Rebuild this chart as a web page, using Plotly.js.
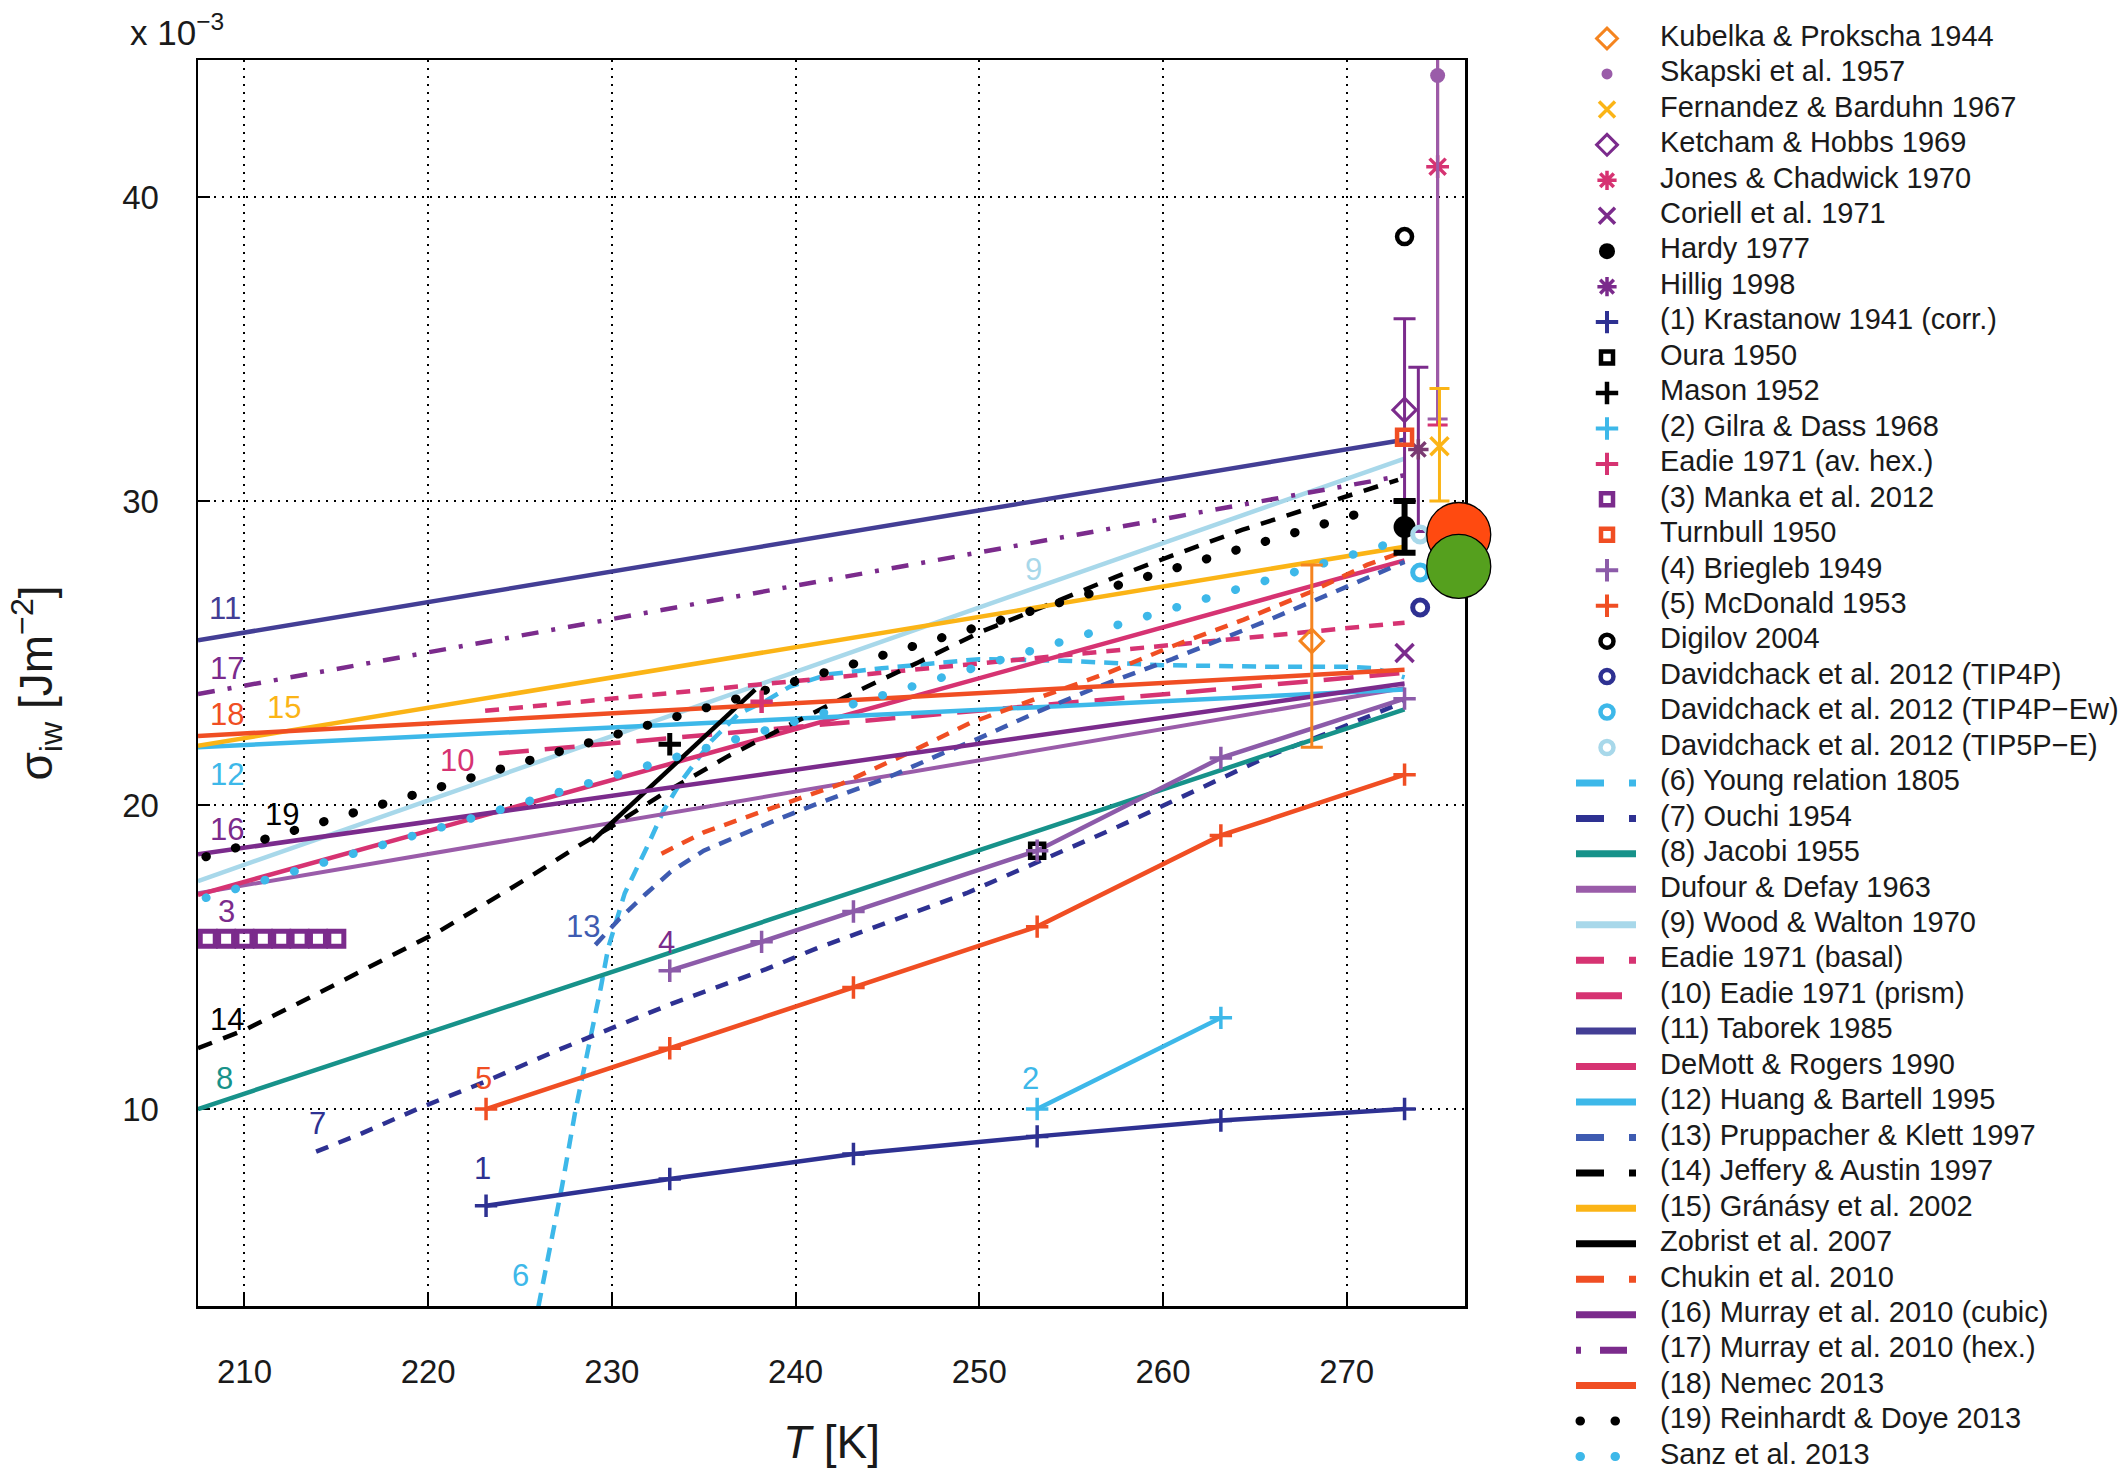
<!DOCTYPE html>
<html><head><meta charset="utf-8">
<script src="https://cdn.plot.ly/plotly-3.0.1.min.js"></script>
<style>
html,body{margin:0;padding:0;background:#fff;}
#chart{width:2118px;height:1469px;}
.tracereinhardt .js-line, .tracesanz .js-line, .tracelegdot1 .js-line, .tracelegdot2 .js-line {stroke-linecap:round;}
</style>
</head><body><div id="chart"></div>
<script>
// ===== DATA (T in K, sigma_iw in 10^-3 J m^-2) =====
const xTicks = [210, 220, 230, 240, 250, 260, 270];
const yTicks = [10, 20, 30, 40];

// point measurements
const kubelkaT = [268.1], kubelkaS = [25.4], kubelkaErrUp = [2.5], kubelkaErrDn = [3.5];
const skapskiT = [274.95], skapskiS = [44.0], skapskiErr = [11.3];
const fernandezT = [275.05], fernandezS = [31.8], fernandezErrUp = [1.9], fernandezErrDn = [1.8];
const ketchamT = [273.15], ketchamS = [33.0], ketchamErr = [3.0];
const jonesT = [274.95], jonesS = [41.0], jonesErr = [8.5];
const coriellT = [273.15], coriellS = [25.0];
const hardyT = [273.15], hardyS = [29.15], hardyErr = [0.85];
const hilligT = [273.9], hilligS = [31.7], hilligErr = [2.7];
const ouraT = [253.15], ouraS = [18.5];
const masonT = [233.15], masonS = [22.0];
const eadieHexT = [238.15], eadieHexS = [23.4];
const turnbullT = [273.15], turnbullS = [32.1];
const digilovT = [273.15], digilovS = [38.7];
const tip4pT = [274.0], tip4pS = [26.5];
const tip4pewT = [274.0], tip4pewS = [27.65];
const tip5peT = [274.0], tip5peS = [28.9];
const bigOrangeT = [276.1], bigOrangeS = [28.9];
const bigGreenT = [276.1], bigGreenS = [27.85];

// measured series with markers
const krastanowT = [223.15, 233.15, 243.15, 253.15, 263.15, 273.15];
const krastanowS = [6.82, 7.7, 8.52, 9.1, 9.62, 10.0];
const gilraT = [253.15, 263.15];
const gilraS = [10.0, 13.0];
const brieglebT = [233.15, 238.15, 243.15, 253.15, 263.15, 273.15];
const brieglebS = [14.55, 15.5, 16.5, 18.5, 21.55, 23.5];
const mcdonaldT = [223.15, 233.15, 243.15, 253.15, 263.15, 273.15];
const mcdonaldS = [10.0, 12.0, 14.0, 16.0, 19.0, 21.0];
const mankaT = [208, 209, 210, 211, 212, 213, 214, 215];
const mankaS = [15.6, 15.6, 15.6, 15.6, 15.6, 15.6, 15.6, 15.6];

// parameterisations (curves)
const youngT = [226.0, 226.7, 227.3, 228.0, 228.7, 229.4, 229.8, 230.7, 231.9, 232.8, 233.8, 235.4, 236.9, 238.3, 239.7, 241.8, 244.7, 250.0, 254.5, 260.0, 266.0, 270.0, 271.5, 273.15];
const youngS = [3.5, 5.6, 7.5, 9.9, 11.9, 14.0, 15.3, 17.1, 18.6, 19.8, 20.8, 22.1, 23.0, 23.4, 23.9, 24.3, 24.5, 24.8, 24.75, 24.6, 24.55, 24.55, 24.5, 24.2];
const ouchiT = [213.9, 216.2, 219.6, 223.1, 226.9, 229.7, 233.2, 238.4, 241.2, 245.5, 249.3, 252.7, 257.6, 262.2, 265.7, 269.5, 273.15];
const ouchiS = [8.6, 9.15, 10.05, 10.9, 11.9, 12.6, 13.45, 14.6, 15.3, 16.25, 17.1, 18.0, 19.3, 20.6, 21.6, 22.5, 23.4];
const jacobiT = [207.47, 273.15], jacobiS = [10.0, 23.15];
const dufourT = [207.47, 273.15], dufourS = [17.1, 23.85];
const woodT = [207.47, 273.15], woodS = [17.5, 31.4];
const eadieBasalT = [223.1, 273.15], eadieBasalS = [23.1, 26.0];
const eadiePrismT = [223.85, 273.15], eadiePrismS = [21.7, 24.35];
const taborekT = [207.47, 273.15], taborekS = [25.42, 32.02];
const demottT = [207.47, 273.15], demottS = [17.05, 28.05];
const huangT = [207.47, 273.15], huangS = [21.9, 23.8];
const pruppT = [229.1, 230.4, 231.8, 233.2, 235.0, 236.9, 238.9, 241.2, 243.2, 245.0, 248.0, 250.0, 253.3, 256.5, 260.5, 265.8, 269.3, 273.15];
const pruppS = [15.4, 16.25, 17.05, 17.8, 18.5, 19.0, 19.5, 20.05, 20.5, 20.9, 21.7, 22.2, 23.1, 23.9, 24.8, 26.1, 27.0, 28.0];
const jefferyT = [207.47, 210.0, 213.5, 217.7, 220.6, 223.1, 225.7, 228.3, 230.0, 233.0, 236.3, 239.7, 243.2, 246.7, 250.1, 253.8, 257.4, 260.7, 264.3, 267.9, 271.5, 272.8];
const jefferyS = [12.0, 12.6, 13.65, 14.95, 15.85, 16.75, 17.7, 18.7, 19.3, 20.45, 21.6, 22.65, 23.7, 24.7, 25.7, 26.6, 27.5, 28.25, 29.05, 29.75, 30.45, 30.7];
const granasyT = [207.47, 273.15], granasyS = [21.95, 28.5];
const zobristT = [228.9, 237.8], zobristS = [18.8, 23.8];
const chukinT = [232.7, 235.0, 238.7, 242.5, 246.1, 249.5, 253.1, 257.0, 260.4, 264.4, 268.0, 271.1, 273.15];
const chukinS = [18.4, 19.1, 19.9, 20.7, 21.7, 22.7, 23.5, 24.35, 25.2, 26.1, 27.0, 27.9, 28.35];
const murrayCubicT = [207.47, 273.15], murrayCubicS = [18.38, 24.0];
const murrayHexT = [207.47, 273.15], murrayHexS = [23.65, 30.85];
const nemecT = [207.47, 273.15], nemecS = [22.27, 24.45];
const reinhardtT = [207.9, 271.0], reinhardtS = [18.3, 29.65];
const sanzT = [207.9, 272.6], sanzS = [16.95, 28.65];

// curve number labels
const labelText = ['11', '17', '18', '15', '12', '19', '16', '3', '10', '9', '14', '8', '5', '7', '1', '13', '4', '2', '6'];
const labelT = [208.95, 209.04, 209.04, 212.13, 209.04, 212.04, 209.04, 209.04, 221.58, 252.97, 209.03, 208.9, 223.0, 213.97, 222.94, 228.44, 232.99, 252.8, 225.0];
const labelS = [26.46, 24.49, 22.98, 23.22, 20.99, 19.69, 19.2, 16.5, 21.45, 27.75, 12.96, 10.99, 10.99, 9.51, 8.03, 16.02, 15.48, 11.0, 4.52];

// legend entries (in order)
const legendNames = [
  'Kubelka & Prokscha 1944', 'Skapski et al. 1957', 'Fernandez & Barduhn 1967', 'Ketcham & Hobbs 1969',
  'Jones & Chadwick 1970', 'Coriell et al. 1971', 'Hardy 1977', 'Hillig 1998',
  '(1) Krastanow 1941 (corr.)', 'Oura 1950', 'Mason 1952', '(2) Gilra & Dass 1968',
  'Eadie 1971 (av. hex.)', '(3) Manka et al. 2012', 'Turnbull 1950', '(4) Briegleb 1949',
  '(5) McDonald 1953', 'Digilov 2004', 'Davidchack et al. 2012 (TIP4P)', 'Davidchack et al. 2012 (TIP4P\u2212Ew)',
  'Davidchack et al. 2012 (TIP5P\u2212E)', '(6) Young relation 1805', '(7) Ouchi 1954', '(8) Jacobi 1955',
  'Dufour & Defay 1963', '(9) Wood & Walton 1970', 'Eadie 1971 (basal)', '(10) Eadie 1971 (prism)',
  '(11) Taborek 1985', 'DeMott & Rogers 1990', '(12) Huang & Bartell 1995', '(13) Pruppacher & Klett 1997',
  '(14) Jeffery & Austin 1997', '(15) Gr\u00e1n\u00e1sy et al. 2002', 'Zobrist et al. 2007', 'Chukin et al. 2010',
  '(16) Murray et al. 2010 (cubic)', '(17) Murray et al. 2010 (hex.)', '(18) Nemec 2013', '(19) Reinhardt & Doye 2013',
  'Sanz et al. 2013'
];

// ===== STYLE =====
const W = 2118, H = 1469;
const FONT = 'Liberation Sans, Arial, Helvetica, sans-serif';
const C = {
  navy: '#2e3192', taborek: '#433e95', purple: '#7b2b8c', lpurple: '#9a5ca9', brieg: '#8c5ba9',
  pink: '#d63372', ored: '#f04e23', orange: '#f5841f', yellow: '#fbb416', lblue: '#3db8e9',
  pblue: '#a8d8ea', teal: '#17928a', mblue: '#3e5bb1', black: '#000000',
  bigOrange: '#ff4a10', bigGreen: '#55a01e'
};
const LW = 4.5;
const traces = [];

function addLine(x, y, color, dash, width, uid) {
  const t = {type: 'scatter', mode: 'lines', x: x, y: y, xaxis: 'x', yaxis: 'y',
    line: {color: color, width: width || LW, dash: dash || 'solid'}, hoverinfo: 'skip', showlegend: false};
  if (uid) t.uid = uid;
  traces.push(t);
}
function mk(symbol, color, size, lw) {
  return {symbol: symbol, color: color, size: size, line: {color: color, width: lw}};
}
function addPts(x, y, marker, err, extra) {
  const t = {type: 'scatter', mode: 'markers', x: x, y: y, xaxis: 'x', yaxis: 'y',
    marker: marker, hoverinfo: 'skip', showlegend: false};
  if (err) t.error_y = err;
  if (extra) Object.assign(t, extra);
  traces.push(t);
}
function errBar(up, dn, color, thick, w) {
  return {type: 'data', symmetric: false, array: up, arrayminus: dn, color: color, thickness: thick, width: w, visible: true};
}

// curves
addLine(youngT, youngS, C.lblue, '14px,9px');
addLine(ouchiT, ouchiS, C.navy, '13px,11px');
addLine(jacobiT, jacobiS, C.teal);
addLine(dufourT, dufourS, C.lpurple, 'solid', 4);
addLine(woodT, woodS, C.pblue);
addLine(eadieBasalT, eadieBasalS, C.pink, '14px,10px');
addLine(eadiePrismT, eadiePrismS, C.pink, '30px,16px');
addLine(taborekT, taborekS, C.taborek);
addLine(demottT, demottS, C.pink);
addLine(huangT, huangS, C.lblue);
addLine(pruppT, pruppS, C.mblue, '13px,10px');
addLine(jefferyT, jefferyS, C.black, '15px,12px');
addLine(granasyT, granasyS, C.yellow);
addLine(zobristT, zobristS, C.black);
addLine(chukinT, chukinS, C.ored, '13px,10px');
addLine(murrayCubicT, murrayCubicS, C.purple);
addLine(murrayHexT, murrayHexS, C.purple, '17px,13px,4px,13px');
addLine(nemecT, nemecS, C.ored);
addLine(reinhardtT, reinhardtS, C.black, '0.5px,30.2px', 9, 'reinhardt');
addLine(sanzT, sanzS, C.lblue, '0.5px,30.2px', 8.5, 'sanz');

// measured series lines
addLine(krastanowT, krastanowS, C.navy);
addLine(gilraT, gilraS, C.lblue);
addLine(brieglebT, brieglebS, C.brieg);
addLine(mcdonaldT, mcdonaldS, C.ored);

// markers
const plus = (c, lw) => mk('cross-thin-open', c, 16, lw || 3.5);
addPts(krastanowT, krastanowS, plus(C.navy));
addPts(gilraT, gilraS, plus(C.lblue));
addPts(ouraT, ouraS, mk('square-open', C.black, 14, 4.5));
addPts(brieglebT, brieglebS, plus(C.brieg));
addPts(mcdonaldT, mcdonaldS, plus(C.ored));
addPts(masonT, masonS, plus(C.black, 5));
addPts(eadieHexT, eadieHexS, plus(C.pink, 4.5));
addPts(mankaT, mankaS, mk('square-open', C.purple, 15, 5));
addPts(kubelkaT, kubelkaS, mk('diamond-open', C.orange, 18, 3), errBar(kubelkaErrUp, kubelkaErrDn, C.orange, 3, 11));
addPts(jonesT, jonesS, mk('asterisk-open', C.pink, 19, 3.5), errBar(jonesErr, jonesErr, C.pink, 3, 10));
addPts(skapskiT, skapskiS, mk('circle', C.lpurple, 15, 0), errBar(skapskiErr, skapskiErr, C.lpurple, 3, 10));
addPts(fernandezT, fernandezS, mk('x-thin-open', C.yellow, 18, 3.5), errBar(fernandezErrUp, fernandezErrDn, C.yellow, 3, 10));
addPts(ketchamT, ketchamS, mk('diamond-open', C.purple, 18, 3), errBar(ketchamErr, ketchamErr, C.purple, 3, 11));
addPts(hilligT, hilligS, mk('asterisk-open', '#7a3a72', 17, 3.5), errBar(hilligErr, hilligErr, C.purple, 3, 10));
addPts(turnbullT, turnbullS, mk('square-open', C.ored, 15, 4.5));
addPts(coriellT, coriellS, mk('x-thin-open', C.purple, 18, 3.5));
addPts(hardyT, hardyS, mk('circle', C.black, 22, 0), errBar(hardyErr, hardyErr, C.black, 6, 11));
addPts(digilovT, digilovS, mk('circle-open', C.black, 15, 4.5));
addPts(tip4pT, tip4pS, mk('circle-open', C.navy, 15, 5));
addPts(tip4pewT, tip4pewS, mk('circle-open', C.lblue, 15, 5));
addPts(tip5peT, tip5peS, mk('circle-open', C.pblue, 15, 5));
addPts(bigOrangeT, bigOrangeS, {symbol: 'circle', color: C.bigOrange, size: 64, line: {color: '#000', width: 1.3}}, null, {cliponaxis: false});
addPts(bigGreenT, bigGreenS, {symbol: 'circle', color: C.bigGreen, size: 64, line: {color: '#000', width: 1.3}}, null, {cliponaxis: false});

// ===== LEGEND (drawn on a pixel-unit overlay axis) =====
const LX0 = 1525, ROW0 = 38.5, ROWH = 35.45, SYMX = 1607, LINE0 = 1576, LINE1 = 1636, TEXTX = 1660;
const LDASH = '28px,25px,7px,100px';
const legendStyle = [
  {m: mk('diamond-open', C.orange, 16, 3)}, {m: mk('circle', C.lpurple, 11, 0)},
  {m: mk('x-thin-open', C.yellow, 16, 3.5)}, {m: mk('diamond-open', C.purple, 16, 3)},
  {m: mk('asterisk-open', C.pink, 16, 3.5)}, {m: mk('x-thin-open', C.purple, 16, 3.5)},
  {m: mk('circle', C.black, 16, 0)}, {m: mk('asterisk-open', C.purple, 16, 3.5)},
  {m: plus(C.navy, 4)}, {m: mk('square-open', C.black, 12, 4.5)}, {m: plus(C.black, 4.5)},
  {m: plus(C.lblue, 4)}, {m: plus(C.pink, 4)}, {m: mk('square-open', C.purple, 12, 4.5)},
  {m: mk('square-open', C.ored, 12, 4.5)}, {m: plus(C.brieg, 4)}, {m: plus(C.ored, 4)},
  {m: mk('circle-open', C.black, 13, 4.5)}, {m: mk('circle-open', C.navy, 13, 4.5)},
  {m: mk('circle-open', C.lblue, 13, 4.5)}, {m: mk('circle-open', C.pblue, 13, 4.5)},
  {l: C.lblue, d: LDASH}, {l: C.navy, d: LDASH}, {l: C.teal}, {l: C.lpurple}, {l: C.pblue},
  {l: C.pink, d: LDASH}, {l: C.pink, d: '46px,100px'}, {l: C.taborek}, {l: C.pink}, {l: C.lblue},
  {l: C.mblue, d: LDASH}, {l: C.black, d: LDASH}, {l: C.yellow}, {l: C.black}, {l: C.ored, d: LDASH},
  {l: C.purple}, {l: C.purple, d: '5px,19px,27px,100px'}, {l: C.ored},
  {l: C.black, d: '0.5px,34.5px,0.5px,100px', dots: 'legdot1'}, {l: C.lblue, d: '0.5px,34.5px,0.5px,100px', dots: 'legdot2'}
];
const rowY = legendNames.map((_, i) => ROW0 + i * ROWH);
legendStyle.forEach((s, i) => {
  const y = rowY[i];
  if (s.m) {
    traces.push({type: 'scatter', mode: 'markers', x: [SYMX], y: [y], xaxis: 'x2', yaxis: 'y2',
      marker: s.m, hoverinfo: 'skip', showlegend: false, cliponaxis: false});
  } else {
    const t = {type: 'scatter', mode: 'lines', x: s.dots ? [LINE0 + 4, LINE1] : [LINE0, LINE1], y: [y, y], xaxis: 'x2', yaxis: 'y2',
      line: {color: s.l, width: s.dots ? 9 : 7, dash: s.d || 'solid'}, hoverinfo: 'skip', showlegend: false};
    if (s.dots) t.uid = s.dots;
    traces.push(t);
  }
});
traces.push({type: 'scatter', mode: 'text', x: legendNames.map(() => TEXTX), y: rowY, text: legendNames,
  textposition: 'middle right', textfont: {family: FONT, size: 29, color: '#1a1a1a'},
  xaxis: 'x2', yaxis: 'y2', hoverinfo: 'skip', showlegend: false, cliponaxis: false});

// ===== annotations =====
const labelColor = [C.taborek, C.purple, C.ored, C.yellow, C.lblue, C.black, C.purple, C.purple, C.pink, C.pblue,
  C.black, C.teal, C.ored, C.navy, C.navy, C.mblue, C.purple, C.lblue, C.lblue];
const annotations = labelText.map((t, i) => ({
  x: labelT[i], y: labelS[i], xref: 'x', yref: 'y', text: t, showarrow: false,
  font: {family: FONT, size: 31, color: labelColor[i]}, xanchor: 'center', yanchor: 'middle'
}));
annotations.push({x: 128 / W, y: 1 - 30 / H, xref: 'paper', yref: 'paper', xanchor: 'left', yanchor: 'middle',
  text: 'x 10<sup>\u22123</sup>', showarrow: false, font: {family: FONT, size: 35, color: '#1a1a1a'}});

const axisCommon = {
  ticks: 'inside', ticklen: 12, tickwidth: 2, tickcolor: '#000',
  showline: true, linecolor: '#000', linewidth: 2.5, mirror: true,
  showgrid: true, gridcolor: '#000', gridwidth: 2, griddash: '2px,6px',
  zeroline: false, layer: 'below traces', fixedrange: true,
  tickfont: {family: FONT, size: 33, color: '#1a1a1a'}
};

const layout = {
  width: W, height: H, margin: {l: 0, r: 0, t: 0, b: 0},
  paper_bgcolor: '#ffffff', plot_bgcolor: 'rgba(0,0,0,0)', showlegend: false,
  font: {family: FONT, color: '#1a1a1a'},
  xaxis: Object.assign({}, axisCommon, {
    domain: [198 / W, 1465 / W], range: [207.47, 276.44], tickvals: xTicks, ticktext: xTicks.map(String),
    anchor: 'y', ticklabelstandoff: 35,
    title: {text: '<i>T</i> [K]', font: {family: FONT, size: 46, color: '#1a1a1a'}, standoff: 37}
  }),
  yaxis: Object.assign({}, axisCommon, {
    domain: [1 - 1306 / H, 1 - 60 / H], range: [3.52, 44.51], tickvals: yTicks, ticktext: yTicks.map(String),
    anchor: 'x', ticklabelstandoff: 30,
    title: {text: '\u03c3<sub>iw</sub> [Jm<sup>\u22122</sup>]', font: {family: FONT, size: 46, color: '#1a1a1a'}, standoff: 55}
  }),
  xaxis2: {domain: [LX0 / W, 1], range: [LX0, W], visible: false, anchor: 'y2', fixedrange: true},
  yaxis2: {domain: [0, 1], range: [H, 0], visible: false, anchor: 'x2', fixedrange: true},
  annotations: annotations
};

Plotly.newPlot('chart', traces, layout, {staticPlot: true, displayModeBar: false});
</script>
</body></html>
